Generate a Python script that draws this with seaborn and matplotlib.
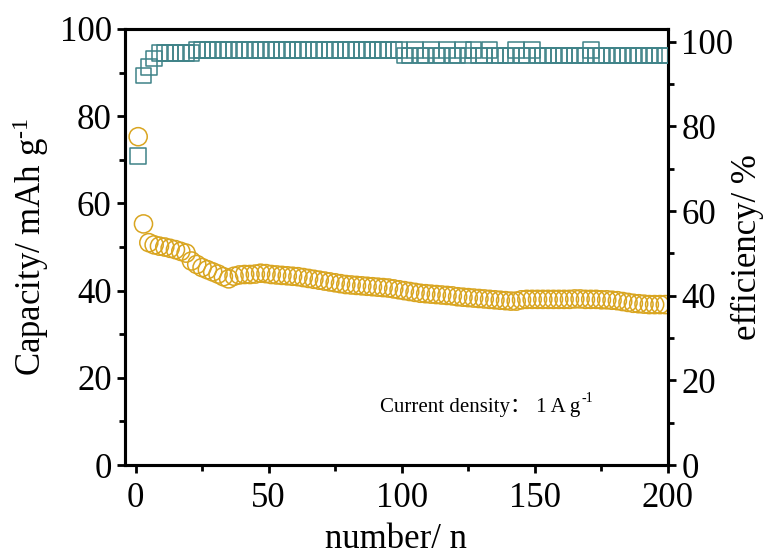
import matplotlib
matplotlib.use('Agg')
import matplotlib.pyplot as plt
import seaborn as sns
import pandas as pd
import numpy as np
from matplotlib.ticker import MultipleLocator

# cycle numbers (every second cycle is shown)
cycles = list(range(1, 200, 2))

capacity = [
    75.3, 55.3, 51.0, 50.5, 50.2, 50.0, 49.7, 49.4, 49.0, 48.6,
    46.8, 46.0, 45.3, 44.8, 44.3, 43.8, 43.2, 42.7, 43.3, 43.6,
    43.7, 43.7, 43.8, 44.0, 43.9, 43.7, 43.6, 43.5, 43.4, 43.3,
    43.2, 43.0, 42.8, 42.6, 42.4, 42.2, 42.0, 41.8, 41.6, 41.4,
    41.3, 41.2, 41.1, 41.0, 40.9, 40.8, 40.7, 40.6, 40.4, 40.2,
    40.0, 39.8, 39.6, 39.4, 39.3, 39.2, 39.1, 39.0, 38.9, 38.8,
    38.6, 38.5, 38.4, 38.3, 38.2, 38.1, 38.0, 37.9, 37.8, 37.7,
    37.6, 37.6, 37.9, 38.0, 38.0, 38.0, 38.0, 38.0, 38.0, 38.0,
    38.0, 38.0, 38.1, 38.1, 38.0, 38.0, 38.0, 37.9, 37.9, 37.8,
    37.7, 37.5, 37.3, 37.1, 37.0, 36.9, 36.8, 36.8, 36.8, 36.8,
]

efficiency = [
    73.0, 92.0, 94.0, 96.0, 97.3, 97.3, 97.3, 97.3, 97.3, 97.3,
    97.3, 98.0, 98.0, 98.0, 98.0, 98.0, 98.0, 98.0, 98.0, 98.0,
    98.0, 98.0, 98.0, 98.0, 98.0, 98.0, 98.0, 98.0, 98.0, 98.0,
    98.0, 98.0, 98.0, 98.0, 98.0, 98.0, 98.0, 98.0, 98.0, 98.0,
    98.0, 98.0, 98.0, 98.0, 98.0, 98.0, 98.0, 98.0, 98.0, 98.0,
    96.7, 96.7, 98.0, 96.7, 96.7, 98.0, 96.7, 96.7, 98.0, 96.7,
    96.7, 98.0, 96.7, 98.0, 96.7, 96.7, 98.0, 96.7, 96.7, 96.7,
    96.7, 98.0, 96.7, 96.7, 98.0, 96.7, 96.7, 96.7, 96.7, 96.7,
    96.7, 96.7, 96.7, 96.7, 96.7, 98.0, 96.7, 96.7, 96.7, 96.7,
    96.7, 96.7, 96.7, 96.7, 96.7, 96.7, 96.7, 96.7, 96.7, 96.7,
]

df = pd.DataFrame({'cycle': cycles, 'capacity': capacity, 'efficiency': efficiency})

sns.set_style('ticks')
plt.rcParams['font.family'] = ['Liberation Serif', 'Noto Sans CJK SC']
plt.rcParams['mathtext.fontset'] = 'custom'
plt.rcParams['mathtext.rm'] = 'Liberation Serif'
plt.rcParams['mathtext.default'] = 'regular'
plt.rcParams['text.color'] = 'black'
plt.rcParams['axes.labelcolor'] = 'black'
plt.rcParams['xtick.color'] = 'black'
plt.rcParams['ytick.color'] = 'black'
plt.rcParams['axes.edgecolor'] = 'black'

orange = '#D9A520'
teal = '#3F8388'

fig = plt.figure(figsize=(7.66, 5.57), dpi=100)
ax = fig.add_axes([0.163, 0.165, 0.709, 0.783])
ax2 = ax.twinx()

sns.scatterplot(data=df, x='cycle', y='capacity', ax=ax, marker='o', s=170,
                facecolor='none', edgecolor=orange, linewidth=1.1, zorder=3)
sns.scatterplot(data=df, x='cycle', y='efficiency', ax=ax2, marker='s', s=125,
                facecolor='none', edgecolor=teal, linewidth=1.1, zorder=3)

ax.set_xlim(-4, 200)
ax.set_ylim(0, 100)
ax2.set_ylim(0, 103)

for a in (ax, ax2):
    for sp in a.spines.values():
        sp.set_linewidth(2.2)
    a.tick_params(which='major', length=6, width=2, labelsize=25, direction='out')
    a.tick_params(which='minor', length=4, width=2, direction='out')
    a.yaxis.set_major_locator(MultipleLocator(20))
    a.yaxis.set_minor_locator(MultipleLocator(10))

ax.xaxis.set_major_locator(MultipleLocator(50))
ax.xaxis.set_minor_locator(MultipleLocator(25))
ax.tick_params(axis='x', which='both', top=False, pad=6)

ax.set_xlabel('number/ n', fontsize=25, labelpad=6)
ax.set_ylabel('Capacity/ mAh g$^{\u2010 1}$', fontsize=25, labelpad=6)
ax2.set_ylabel('efficiency/ %', fontsize=25, labelpad=-2)

note = ax.text(92, 13.3, 'Current density\uff1a 1 A g', fontsize=15, va='center')
ax.annotate('-1', xy=(1, 1), xycoords=note, xytext=(0.5, -5),
            textcoords='offset points', fontsize=10, va='bottom', ha='left')

fig.savefig('out.png', dpi=100)
